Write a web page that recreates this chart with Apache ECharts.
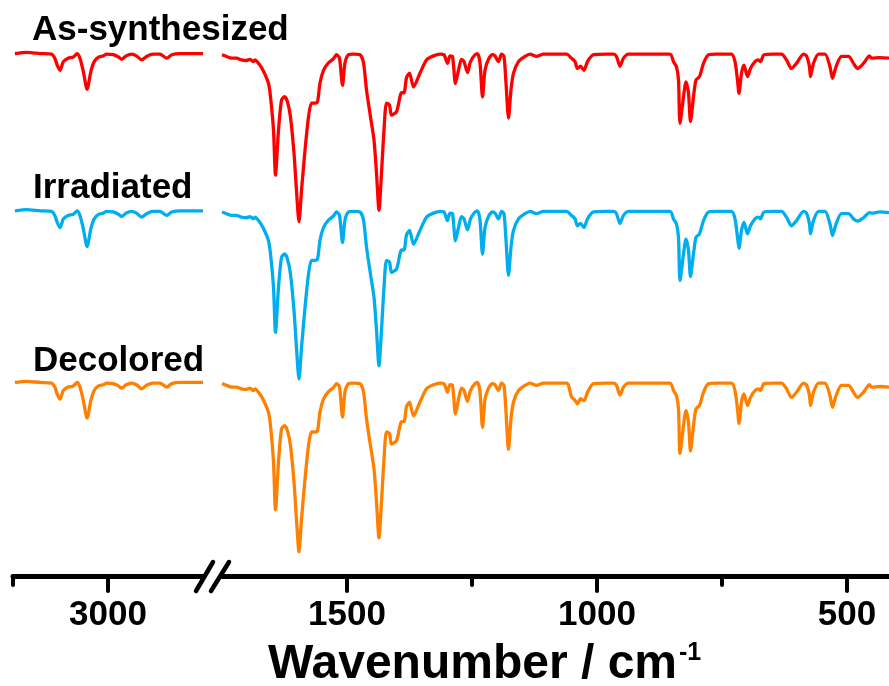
<!DOCTYPE html>
<html>
<head>
<meta charset="utf-8">
<script src="https://cdn.jsdelivr.net/npm/echarts@6/dist/echarts.min.js"></script>
<style>
  html, body { margin: 0; padding: 0; background: #fff; }
  #chart { width: 889px; height: 686px; }
</style>
</head>
<body>
<div id="chart"></div>
<script>
// wavenumbers (cm-1), high-frequency segment and fingerprint segment
const wnHigh = [3196,3171,3143,3119,3112,3107,3101,3094,3084,3073,3065,3059,3052,3044,3036,3029,3020,3010,3003,2989,2978,2971,2962,2950,2940,2929,2919,2905,2891,2876,2866,2848,2800]
const wnLow = [1750,1741,1731,1721,1711,1701,1694,1687,1684,1677,
  1668,1657,1653,1647,1643,1637,1631,1625,1619,1613,
  1606,1601,1596,1591,1584,1577,1571,1564,1559,1554,
  1547,1537,1527,1521,1515,1509,1504,1497,1487,1474,
  1467,1461,1453,1446,1441,1436,1431,1426,1421,1415,
  1411,1401,1394,1391,1386,1381,1375,1367,1354,1341,
  1327,1314,1306,1299,1294,1289,1283,1277,1271,1266,
  1259,1253,1244,1239,1234,1229,1224,1217,1209,1204,
  1197,1191,1186,1182,1177,1172,1167,1157,1144,1134,
  1121,1107,1061,1051,1044,1039,1033,1026,1019,1007,
  981,967,961,954,947,937,854,847,841,837,
  834,827,822,817,813,807,802,795,787,777,
  761,731,724,719,716,711,706,699,693,684,
  677,673,666,647,631,621,611,601,587,581,
  575,573,567,557,544,534,529,522,511,497,
  487,479,467,455,451,434,416]

// transmittance (a.u., stacked as in the figure)
const asSynHigh = [90.7,90.9,90.7,90.6,89.9,88.7,87.8,89.3,89.9,90.1,90.7,89.9,87.6,84.5,87.6,89.3,90.1,90.3,90.6,90.5,90.1,89.7,90.3,90.6,90.3,89.6,90.2,90.6,90.6,89.9,90.5,90.7,90.7]
const asSynLow = [90.5,90.2,89.9,89.9,89.6,89.5,89.7,89.3,89.6,89.0,
  87.8,85.5,83.2,77.4,69.6,77.4,82.6,83.2,82.3,79.7,
  73.4,66.9,61.5,66.9,73.9,79.7,82.1,82.1,82.3,85.6,
  87.8,89.1,89.8,90.5,89.9,85.2,89.1,90.5,90.6,90.5,
  89.1,84.4,79.7,75.7,70.0,63.5,70.0,77.4,82.1,81.8,
  80.0,80.6,83.2,83.9,83.9,86.5,87.3,84.9,87.3,89.6,
  90.3,90.6,90.5,89.0,90.3,90.2,85.5,87.8,89.7,89.3,
  87.4,89.3,90.5,90.7,89.1,83.2,87.8,89.7,90.5,90.3,
  89.3,90.6,90.2,85.6,79.5,84.4,87.3,89.3,90.2,90.6,
  90.2,90.6,90.6,89.9,89.3,88.1,88.5,87.8,89.3,90.5,
  90.6,90.6,90.2,88.5,89.9,90.6,90.6,89.3,88.4,86.1,
  78.6,83.2,85.8,83.8,78.9,83.2,86.1,86.7,89.0,90.5,
  90.6,90.6,89.3,86.1,83.8,87.3,88.7,86.7,88.1,89.3,
  89.6,89.3,90.5,90.6,90.6,89.6,88.1,89.0,90.6,90.3,
  88.4,86.7,89.0,90.6,90.6,88.4,86.4,88.4,90.2,90.2,
  89.0,88.1,89.0,90.3,89.9,90.0,89.9]

const irrHigh = [63.4,63.6,63.4,63.3,62.6,61.4,60.5,62.0,62.6,62.8,63.4,62.6,60.3,57.2,60.3,62.0,62.8,63.0,63.3,63.2,62.8,62.4,63.0,63.3,63.0,62.3,62.9,63.3,63.3,62.6,63.2,63.4,63.4]
const irrLow = [63.2,62.9,62.6,62.6,62.3,62.2,62.4,62.0,62.3,61.7,
  60.5,58.2,55.9,50.1,42.3,50.1,55.3,55.9,55.0,52.4,
  46.1,39.6,34.2,39.6,46.6,52.4,54.8,54.8,55.0,58.3,
  60.5,61.8,62.5,63.2,62.6,57.9,61.8,63.2,63.3,63.2,
  61.8,57.1,52.4,48.4,42.7,36.5,42.7,50.1,54.8,54.5,
  52.7,53.3,55.9,56.6,56.6,59.2,60.0,57.6,60.0,62.3,
  63.0,63.3,63.2,61.7,63.0,62.9,58.2,60.5,62.4,62.0,
  60.1,62.0,63.2,63.4,61.8,55.9,60.5,62.4,63.2,63.0,
  62.0,63.3,62.9,58.3,52.2,57.1,60.0,62.0,62.9,63.3,
  62.9,63.3,63.3,62.6,62.0,60.8,61.2,60.5,62.0,63.2,
  63.3,63.3,62.9,61.2,62.6,63.3,63.3,62.0,61.1,58.8,
  51.3,55.9,58.5,56.5,52.0,55.9,58.8,59.4,61.7,63.2,
  63.3,63.3,62.0,58.8,56.9,60.0,61.4,59.4,60.8,62.0,
  62.3,62.0,63.2,63.3,63.3,62.3,60.8,61.7,63.3,63.0,
  61.1,59.4,61.7,63.3,63.3,61.1,59.1,61.1,62.9,62.9,
  62.0,61.6,62.2,63.1,63.0,63.2,63.1]

const decHigh = [33.6,33.8,33.6,33.5,32.8,31.6,30.7,32.2,32.8,33.0,33.6,32.8,30.5,27.4,30.5,32.2,33.0,33.2,33.5,33.4,33.0,32.6,33.2,33.5,33.2,32.5,33.1,33.5,33.5,32.8,33.4,33.6,33.6]
const decLow = [33.4,33.1,32.8,32.8,32.5,32.4,32.6,32.2,32.5,31.9,
  30.7,28.4,26.1,19.8,11.5,19.8,25.5,26.1,25.2,22.6,
  16.3,9.8,4.2,9.8,16.8,22.6,25.0,25.0,25.2,28.5,
  30.7,32.0,32.7,33.4,32.8,27.6,32.0,33.4,33.5,33.4,
  32.0,27.3,22.6,18.6,12.9,6.6,12.9,20.3,25.0,24.7,
  22.9,23.5,26.1,26.8,26.8,29.4,30.2,27.8,30.2,32.5,
  33.2,33.5,33.4,31.9,33.2,33.1,28.1,30.7,32.6,32.2,
  30.3,32.2,33.4,33.6,32.0,25.8,30.7,32.6,33.4,33.2,
  32.2,33.5,33.1,28.5,22.0,27.3,30.2,32.2,33.1,33.5,
  33.1,33.5,33.5,31.1,30.5,29.9,30.8,30.4,31.9,33.4,
  33.5,33.5,33.1,31.4,32.8,33.5,33.5,32.2,31.3,29.0,
  21.3,26.1,28.7,26.7,21.7,26.1,29.0,29.6,31.9,33.4,
  33.5,33.5,32.2,29.0,26.5,30.2,31.6,29.6,31.0,32.2,
  32.5,32.2,33.4,33.5,33.5,32.5,31.0,31.9,33.5,33.2,
  31.3,29.6,31.9,33.5,33.5,31.3,29.3,31.3,33.1,33.1,
  31.9,31.0,31.9,33.2,32.8,32.9,32.8]

const names = ['As-synthesized', 'Irradiated', 'Decolored']
const colors = ['#ff0000', '#00aeef', '#ff8000']
const ticksHigh = [3000]
const ticksLow = [1500, 1000, 500]
const minorHigh = [3200]
const minorLow = [1250, 750]

const zip = (xs, ys) => xs.map((x, i) => [x, ys[i]])
const FONT = '"Liberation Sans", Arial, sans-serif'

const chart = echarts.init(document.getElementById('chart'))

const baseAxis = {
  type: 'value',
  inverse: true,
  position: 'bottom',
  splitLine: { show: false },
  axisLine: { show: true, onZero: false, lineStyle: { color: '#000', width: 5, cap: 'round' } },
  axisTick: { show: true, length: 15, lineStyle: { color: '#000', width: 4, cap: 'round' } },
  axisLabel: { color: '#000', fontSize: 35, fontWeight: 'bold', fontFamily: FONT, margin: 22, formatter: v => String(v) }
}
const minorAxis = {
  type: 'value',
  inverse: true,
  position: 'bottom',
  splitLine: { show: false },
  axisLine: { show: false },
  axisLabel: { show: false },
  axisTick: { show: true, length: 9, lineStyle: { color: '#000', width: 4, cap: 'round' } }
}

const spectra = [[asSynHigh, asSynLow], [irrHigh, irrLow], [decHigh, decLow]]
const series = []
spectra.forEach((s, i) => {
  ;[0, 1].forEach(g => {
    series.push({
      name: names[i],
      type: 'line',
      xAxisIndex: g,
      yAxisIndex: g,
      data: zip(g === 0 ? wnHigh : wnLow, s[g]),
      showSymbol: false,
      smooth: 0.25,
      lineStyle: { color: colors[i], width: 3.3 },
      silent: true
    })
  })
})

const labelStyle = { color: '#000', fontSize: 35, fontWeight: 'bold', fontFamily: FONT }

chart.setOption({
  backgroundColor: '#fff',
  animation: false,
  title: [
    { text: names[0], left: 27, top: 8, textStyle: labelStyle },
    { text: names[1], left: 28, top: 166, textStyle: labelStyle },
    { text: names[2], left: 28, top: 339, textStyle: labelStyle },
    {
      text: '{a|Wavenumber / cm}{b|-1}',
      left: 263, top: 636,
      textStyle: {
        rich: {
          a: { fontSize: 48, fontWeight: 'bold', fontFamily: FONT, color: '#000' },
          b: { fontSize: 25, fontWeight: 'bold', fontFamily: FONT, color: '#000', verticalAlign: 'top', padding: [0, 0, 18, 2] }
        }
      }
    }
  ],
  grid: [
    { left: 13, width: 190, top: 0, height: 576 },
    { left: 222, right: 0, top: 0, height: 576 }
  ],
  xAxis: [
    Object.assign({}, baseAxis, { gridIndex: 0, min: 2800, max: 3200,
      axisTick: Object.assign({}, baseAxis.axisTick, { customValues: ticksHigh }),
      axisLabel: Object.assign({}, baseAxis.axisLabel, { customValues: ticksHigh }) }),
    Object.assign({}, baseAxis, { gridIndex: 1, min: 416, max: 1750,
      axisTick: Object.assign({}, baseAxis.axisTick, { customValues: ticksLow }),
      axisLabel: Object.assign({}, baseAxis.axisLabel, { customValues: ticksLow }) }),
    Object.assign({}, minorAxis, { gridIndex: 0, min: 2800, max: 3200,
      axisTick: Object.assign({}, minorAxis.axisTick, { customValues: minorHigh }) }),
    Object.assign({}, minorAxis, { gridIndex: 1, min: 416, max: 1750,
      axisTick: Object.assign({}, minorAxis.axisTick, { customValues: minorLow }) })
  ],
  yAxis: [
    { type: 'value', gridIndex: 0, min: 0, max: 100, show: false },
    { type: 'value', gridIndex: 1, min: 0, max: 100, show: false }
  ],
  // axis break marks
  graphic: [
    { type: 'line', shape: { x1: 196, y1: 591, x2: 213, y2: 562 }, style: { stroke: '#000', lineWidth: 4.5, lineCap: 'round' } },
    { type: 'line', shape: { x1: 211, y1: 591, x2: 229, y2: 562 }, style: { stroke: '#000', lineWidth: 4.5, lineCap: 'round' } }
  ],
  series: series
})

window.addEventListener('resize', () => chart.resize())
</script>
</body>
</html>
